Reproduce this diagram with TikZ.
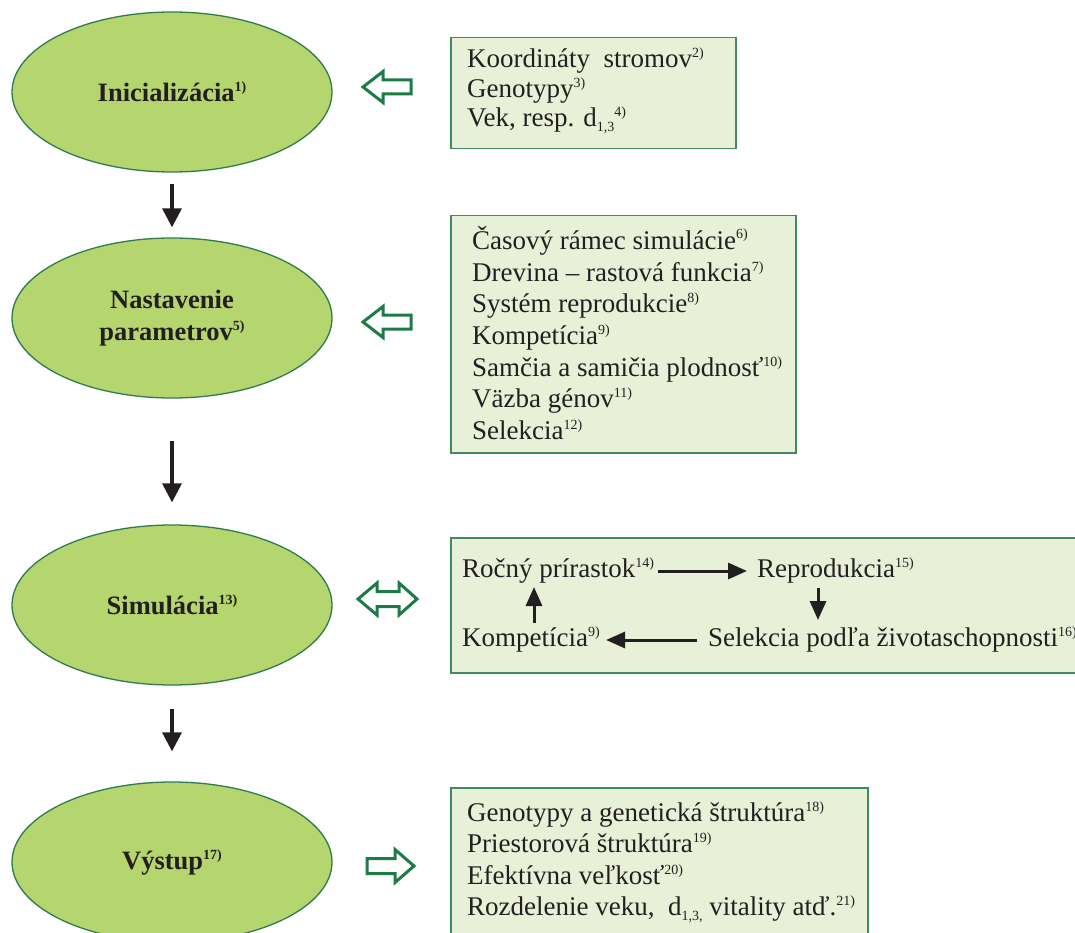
\documentclass[tikz,border=0pt]{standalone}
\usepackage{fontspec}
\setmainfont{Liberation Serif}
\usetikzlibrary{arrows.meta,shapes.geometric}
\definecolor{ellfill}{HTML}{B5D56F}
\definecolor{elldraw}{HTML}{2F7D4E}
\definecolor{boxfill}{HTML}{E8F0D8}
\definecolor{boxdraw}{HTML}{3E8D5E}
\definecolor{hollow}{HTML}{1E7B48}
\definecolor{ink}{HTML}{231F20}
\newcommand\sups[1]{\raisebox{10pt}{\fontsize{14}{14}\selectfont #1}}
\newcommand\subs[1]{\raisebox{-5pt}{\fontsize{14}{14}\selectfont #1}}
\tikzset{
  ell/.style={ellipse, fill=ellfill, draw=elldraw, line width=1.3pt, minimum width=320pt, minimum height=160pt, inner sep=0pt, align=center, text=ink, font=\fontsize{26.5}{32}\selectfont\bfseries},
  boxnode/.style={rectangle, fill=boxfill, draw=boxdraw, line width=1.5pt, anchor=north west, inner sep=0pt},
  txt/.style={anchor=base west, inner sep=0pt, text=ink, font=\fontsize{27}{32}\selectfont},
  flow/.style={draw=ink, line width=3.2pt, -{Triangle[length=19pt,width=19pt]}},
  cyc/.style={draw=ink, line width=3pt, -{Triangle[length=19pt,width=16pt]}},
  openarrow/.style={draw=hollow, line width=3pt, fill=white, line join=miter}
}
\begin{document}
\begin{tikzpicture}[x=1pt,y=-1pt]
\useasboundingbox (0,0) rectangle (1075,933);
% ellipses
\node[ell] (e1) at (172,92) {Inicializácia\sups{1)}};
\node[ell] (e2) at (172,318) {Nastavenie\\parametrov\sups{5)}};
\node[ell] (e3) at (172,605) {Simulácia\sups{13)}};
\node[ell] (e4) at (172,862) {Výstup\sups{17)}};
% vertical flow arrows
\draw[flow] ([yshift=-11pt]e1.south) -- ([yshift=10pt]e2.north);
\draw[flow] ([yshift=-42pt]e2.south) -- ([yshift=22pt]e3.north);
\draw[flow] ([yshift=-23pt]e3.south) -- ([yshift=30pt]e4.north);
% boxes
\node[boxnode, minimum width=285pt, minimum height=111pt] (b1) at (450,37) {};
\node[boxnode, minimum width=345pt, minimum height=237pt] (b2) at (450,215) {};
\node[boxnode, minimum width=640pt, minimum height=135pt] (b3) at (450,537) {};
\node[boxnode, minimum width=417pt, minimum height=163pt] (b4) at (450,787) {};
% hollow arrows
\draw[openarrow] (363,87) -- (383,71.5) -- (383,80) -- (411,80) -- (411,94) -- (383,94) -- (383,102.5) -- cycle;
\draw[openarrow] (363,322) -- (383,306.5) -- (383,315) -- (411,315) -- (411,329) -- (383,329) -- (383,337.5) -- cycle;
\draw[openarrow] (358,599) -- (377,583) -- (377,591.5) -- (399,591.5) -- (399,583) -- (417,599) -- (399,615) -- (399,606.5) -- (377,606.5) -- (377,615) -- cycle;
\draw[openarrow] (414,866) -- (395,849.5) -- (395,858.5) -- (367,858.5) -- (367,873.5) -- (395,873.5) -- (395,882.5) -- cycle;
% box 1 text
\node[txt] (t11) at (467,68) {Koordináty\ \ stromov\sups{2)}};
\node[txt] (t12) at (467,98) {Genotypy\sups{3)}};
\node[txt] (t13) at (467,127) {Vek, resp. d\subs{1,3}\sups{4)}};
% box 2 text
\node[txt] (t21) at (472,249) {Časový rámec simulácie\sups{6)}};
\node[txt] (t22) at (472,281) {Drevina – rastová funkcia\sups{7)}};
\node[txt] (t23) at (472,312.5) {Systém reprodukcie\sups{8)}};
\node[txt] (t24) at (472,344) {Kompetícia\sups{9)}};
\node[txt] (t25) at (472,376) {Samčia a samičia plodnosť\sups{10)}};
\node[txt] (t26) at (472,407.5) {Väzba génov\sups{11)}};
\node[txt] (t27) at (472,439) {Selekcia\sups{12)}};
% box 3 cycle
\node[txt] (roc) at (462,577) {Ročný prírastok\sups{14)}};
\node[txt] (rep) at (757,577) {Reprodukcia\sups{15)}};
\node[txt] (kom) at (462,646) {Kompetícia\sups{9)}};
\node[txt] (sel) at (708,646) {Selekcia podľa životaschopnosti\sups{16)}};
\draw[cyc] ([xshift=4pt,yshift=6pt]roc.base east) -- ([xshift=-10pt,yshift=6pt]rep.base west);
\draw[cyc] ([xshift=61pt,yshift=-11pt]rep.base west) -- ([xshift=110pt,yshift=26pt]sel.base west);
\draw[cyc] ([xshift=-11pt,yshift=6pt]sel.base west) -- ([xshift=6pt,yshift=6pt]kom.base east);
\draw[cyc] ([xshift=72pt,yshift=23pt]kom.base west) -- ([xshift=72pt,yshift=-10pt]roc.base west);
% box 4 text
\node[txt] (t41) at (467,821) {Genotypy a genetická štruktúra\sups{18)}};
\node[txt] (t42) at (467,852) {Priestorová štruktúra\sups{19)}};
\node[txt] (t43) at (467,884) {Efektívna veľkosť\sups{20)}};
\node[txt] (t44) at (467,915) {Rozdelenie veku,\ \ d\subs{1,3,} vitality atď.\sups{21)}};
\end{tikzpicture}
\end{document}
